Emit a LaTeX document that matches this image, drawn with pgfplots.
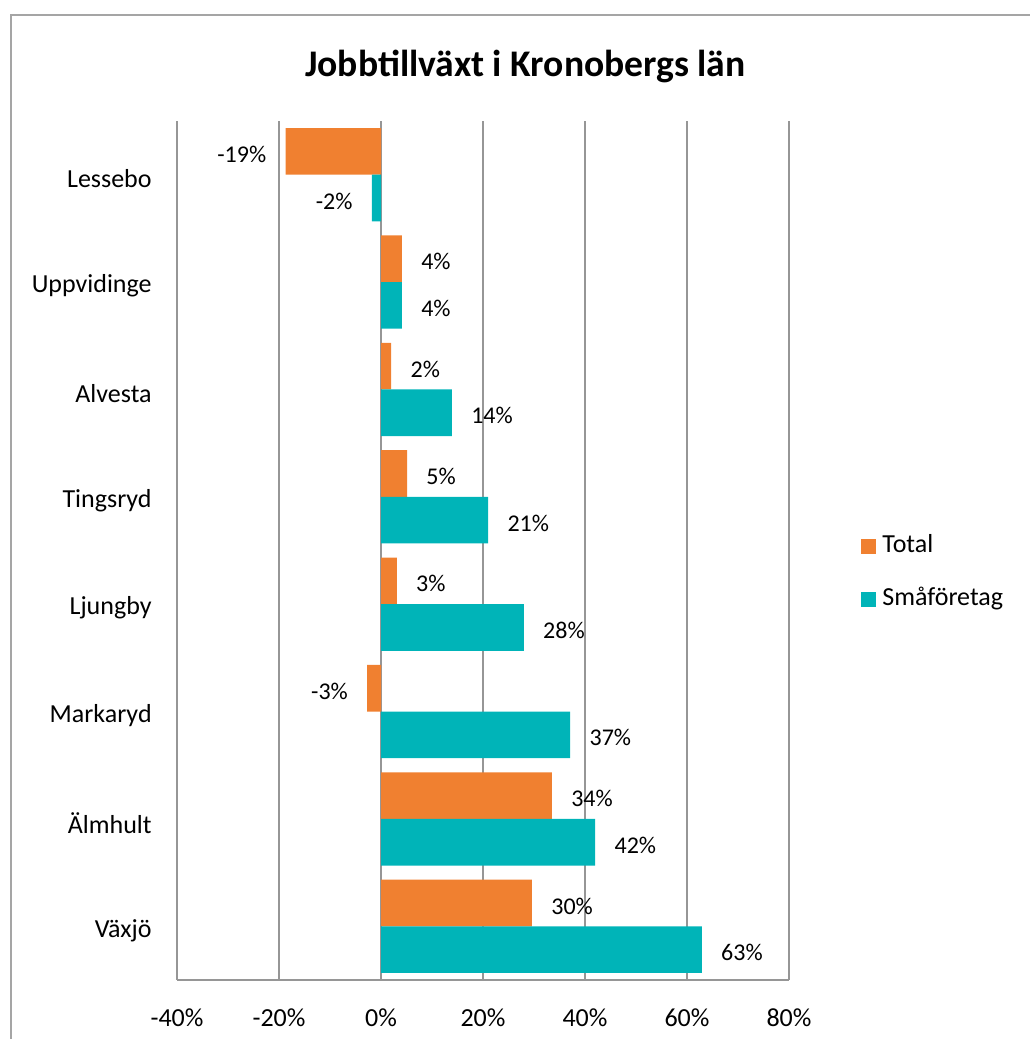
\documentclass[border=0pt]{standalone}
\usepackage{fontspec}
\setmainfont{Carlito}
\usepackage{pgfplots}
\pgfplotsset{compat=1.18}
\definecolor{totc}{RGB}{240,128,48}
\definecolor{smac}{RGB}{0,180,184}
\definecolor{gridc}{RGB}{150,150,150}
\definecolor{framec}{RGB}{165,165,165}
\begin{document}
\begin{tikzpicture}
\begin{axis}[
  name=ax,
  scale only axis,
  width=306pt, height=429.5pt,
  xbar, bar width=23.3pt,
  xmin=-40, xmax=80,
  ymin=-0.5, ymax=7.5, y dir=reverse,
  xtick={-40,-20,...,80},
  ytick={0,...,7},
  yticklabels={Lessebo,Uppvidinge,Alvesta,Tingsryd,Ljungby,Markaryd,Älmhult,Växjö},
  xticklabel={\pgfmathprintnumber{\tick}\%},
  /pgf/number format/assume math mode=true,
  xmajorgrids, major grid style={gridc, line width=1pt},
  axis x line*=bottom, axis y line*=left,
  axis line style={gridc, line width=1pt},
  major tick length=0pt,
  tick label style={font=\fontsize{13}{15}\selectfont},
  xticklabel style={anchor=base, yshift=-23pt},
  yticklabel style={anchor=east, inner xsep=0pt, xshift=-12.5pt, yshift=-2pt},
  title={Jobbtillväxt i Kronobergs län},
  title style={at={(axis description cs:0.5694,1.0373)}, anchor=base, inner sep=0pt, font=\bfseries\fontsize{18.8}{22}\selectfont},
  point meta=x,
  nodes near coords={\pgfmathprintnumber[fixed,precision=0]{\pgfplotspointmeta}\%},
  nodes near coords align=horizontal,
  every node near coord/.append style={font=\fontsize{12}{14}\selectfont, inner xsep=9.5pt, text=black, yshift=-1.5pt},
  legend style={at={(axis description cs:1.1176,0.4744)}, anchor=west, draw=none, fill=none, inner sep=0pt, row sep=15pt, nodes={inner sep=0pt, text height=9pt, text depth=2.5pt, font=\fontsize{13}{15}\selectfont}, /tikz/every odd column/.append style={column sep=3pt}},
  legend cell align=left,
]
\addplot[fill=totc, draw=none, bar shift=11.65pt, legend image code/.code={\fill[totc] (0pt,-3.75pt) rectangle (7.5pt,3.75pt);}] coordinates {
  (-18.7,0) (4.1,1) (2.0,2) (5.1,3) (3.1,4) (-2.7,5) (33.5,6) (29.6,7)};
\addplot[fill=smac, draw=none, bar shift=-11.65pt, legend image code/.code={\fill[smac] (0pt,-3.75pt) rectangle (7.5pt,3.75pt);}] coordinates {
  (-1.8,0) (4.1,1) (13.9,2) (21.0,3) (28.0,4) (37.1,5) (42.0,6) (62.9,7)};
\legend{Total,Småföretag}
\end{axis}
\pgfresetboundingbox
\path[use as bounding box] ([shift={(-88.5pt,-29.5pt)}]ax.south west) rectangle ([shift={(426pt,490pt)}]ax.south west);
\draw[framec, line width=1pt] ([shift={(-83pt,-60pt)}]ax.south west) rectangle ([shift={(460pt,482.5pt)}]ax.south west);
\end{tikzpicture}
\end{document}
